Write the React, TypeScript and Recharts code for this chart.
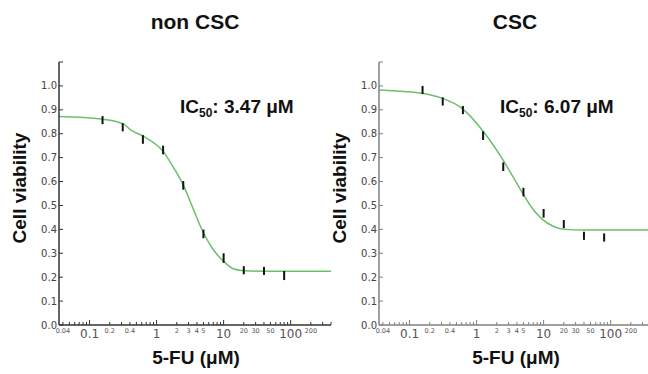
import React from 'react'
import { ComposedChart, Line, Scatter, ErrorBar, XAxis, YAxis } from 'recharts'

// concentrations (µM), 2-fold dilution series
const conc = [0.15625, 0.3125, 0.625, 1.25, 2.5, 5, 10, 20, 40, 80]

const nonCscViability = [0.857, 0.827, 0.776, 0.732, 0.584, 0.381, 0.28, 0.229, 0.226, 0.207]
const nonCscErr = [0.017, 0.017, 0.018, 0.018, 0.018, 0.018, 0.02, 0.017, 0.017, 0.019]
const nonCscFitConc = [0.035, 0.15, 0.32, 0.41, 0.65, 1.26, 1.81, 2.5, 3.41, 4.54, 6.78, 10.1, 14.3, 20.1, 40, 400]
const nonCscFit = [0.872, 0.862, 0.841, 0.816, 0.788, 0.725, 0.656, 0.586, 0.495, 0.411, 0.321, 0.265, 0.234, 0.227, 0.225, 0.225]

const cscViability = [0.983, 0.935, 0.899, 0.792, 0.662, 0.556, 0.467, 0.422, 0.373, 0.366]
const cscErr = [0.017, 0.017, 0.017, 0.018, 0.018, 0.018, 0.018, 0.017, 0.017, 0.017]
const cscFitConc = [0.035, 0.152, 0.302, 0.6, 1.2, 2.42, 3.54, 4.82, 7.03, 9.58, 13.9, 19.3, 39, 400]
const cscFit = [0.983, 0.969, 0.949, 0.907, 0.817, 0.695, 0.617, 0.553, 0.482, 0.442, 0.413, 0.401, 0.397, 0.397]

const xTicks = [
  0.04, 0.05, 0.06, 0.07, 0.08, 0.09,
  0.1, 0.2, 0.3, 0.4, 0.5, 0.6, 0.7, 0.8, 0.9,
  1, 2, 3, 4, 5, 6, 7, 8, 9,
  10, 20, 30, 40, 50, 60, 70, 80, 90,
  100, 200, 300, 400,
]
const majorTicks = [0.1, 1, 10, 100]
const minorLabels = [0.04, 0.2, 0.4, 2, 3, 4, 5, 20, 30, 50, 200]
const yTicks = [0, 0.1, 0.2, 0.3, 0.4, 0.5, 0.6, 0.7, 0.8, 0.9, 1.0, 1.1]

const GREEN = '#6cbf6c'
const SANS = '"Liberation Sans", Arial, sans-serif'
const TICK_FONT = '"DejaVu Sans", Verdana, sans-serif'

const nothing = () => <g />

function makeXTick(color: string) {
  return (props: any) => {
    const { x, y, payload } = props
    const v = payload.value
    const major = majorTicks.includes(v)
    const showLabel = major || minorLabels.includes(v)
    return (
      <g>
        <line x1={x} x2={x} y1={y} y2={y - (major ? 5 : 3)} stroke={color} />
        {showLabel && (
          <text
            x={x}
            y={y + (major ? 13 : 8)}
            textAnchor="middle"
            fontSize={major ? 12 : 6.5}
            fill="#555"
            fontFamily={TICK_FONT}
          >
            {String(v)}
          </text>
        )}
      </g>
    )
  }
}

function makeYTick(color: string) {
  return (props: any) => {
    const { x, y, payload } = props
    const v = payload.value
    return (
      <g>
        <line x1={x} x2={x + 4} y1={y} y2={y} stroke={color} />
        {v <= 1.0 && (
          <text x={x - 2} y={y} dy="0.35em" textAnchor="end" fontSize={10} fill="#444" fontFamily={TICK_FONT}>
            {v.toFixed(1)}
          </text>
        )}
      </g>
    )
  }
}

interface PanelProps {
  left: number
  title: string
  ic50: string
  axisColor: string
  viability: number[]
  err: number[]
  fitConc: number[]
  fit: number[]
}

function Panel({ left, title, ic50, axisColor, viability, err, fitConc, fit }: PanelProps) {
  const points = conc.map((c, i) => ({ c, v: viability[i], e: err[i] }))
  const curve = fitConc.map((c, i) => ({ c, v: fit[i] }))
  return (
    <div style={{ position: 'absolute', left, top: 0, width: 340, height: 374 }}>
      <ComposedChart width={340} height={374} margin={{ top: 62, right: 9, bottom: 19, left: 0 }}>
        <XAxis
          dataKey="c"
          type="number"
          scale="log"
          domain={[0.035, 400]}
          allowDataOverflow
          ticks={xTicks}
          interval={0}
          tickSize={0}
          tickMargin={0}
          tickLine={false}
          height={30}
          axisLine={{ stroke: axisColor, strokeWidth: 1.5 }}
          tick={makeXTick(axisColor)}
        />
        <YAxis
          dataKey="v"
          type="number"
          domain={[0, 1.1]}
          ticks={yTicks}
          interval={0}
          tickSize={0}
          tickMargin={0}
          tickLine={false}
          width={59}
          axisLine={{ stroke: axisColor, strokeWidth: 1.5 }}
          tick={makeYTick(axisColor)}
        />
        <Line
          data={curve}
          dataKey="v"
          type="monotone"
          stroke={GREEN}
          strokeWidth={1.5}
          dot={false}
          isAnimationActive={false}
        />
        <Scatter data={points} dataKey="v" shape={nothing} isAnimationActive={false}>
          <ErrorBar dataKey="e" direction="y" width={0} stroke="#111" strokeWidth={2} isAnimationActive={false} />
        </Scatter>
      </ComposedChart>

      <div
        style={{
          position: 'absolute', left: 0, top: 10, width: 390, textAlign: 'center',
          font: `bold 21px ${SANS}`, lineHeight: '24px', color: '#111',
        }}
      >
        {title}
      </div>
      <div
        style={{
          position: 'absolute', left: 180, top: 96, whiteSpace: 'nowrap',
          font: `bold 19px ${SANS}`, lineHeight: '22px', color: '#111',
        }}
      >
        IC<sub style={{ fontSize: 12, verticalAlign: -4 }}>50</sub>: {ic50} μM
      </div>
      <div
        style={{
          position: 'absolute', left: 20, top: 188, whiteSpace: 'nowrap',
          transform: 'translate(-50%, -50%) rotate(-90deg)',
          font: `bold 19px ${SANS}`, color: '#111',
        }}
      >
        Cell viability
      </div>
      <div
        style={{
          position: 'absolute', left: 196, top: 358, whiteSpace: 'nowrap',
          transform: 'translate(-50%, -50%)',
          font: `bold 19px ${SANS}`, color: '#111',
        }}
      >
        5-FU (μM)
      </div>
    </div>
  )
}

export default function App() {
  return (
    <div
      style={{
        position: 'absolute', left: 0, top: 0, width: 648, height: 374,
        overflow: 'hidden', background: '#fff',
      }}
    >
      <Panel
        left={0}
        title="non CSC"
        ic50="3.47"
        axisColor="#333"
        viability={nonCscViability}
        err={nonCscErr}
        fitConc={nonCscFitConc}
        fit={nonCscFit}
      />
      <Panel
        left={320}
        title="CSC"
        ic50="6.07"
        axisColor="#808080"
        viability={cscViability}
        err={cscErr}
        fitConc={cscFitConc}
        fit={cscFit}
      />
    </div>
  )
}
